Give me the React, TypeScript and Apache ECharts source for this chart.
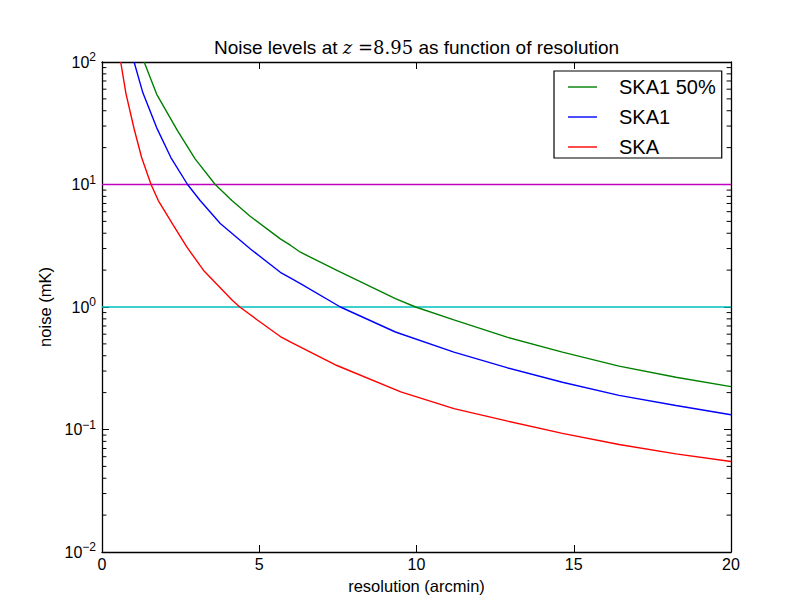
import React, { useEffect, useRef } from "react";
import * as echarts from "echarts";

// SKA1 50% (green)
const xSKA1half = [1.34, 1.74, 2.4, 2.96, 3.6, 4.13, 4.71, 5.67, 6.0, 6.31, 7.47, 9.33, 9.97, 11.19, 12.9, 14.64, 16.44, 18.25, 20];
const ySKA1half = [100, 54.5, 27.5, 16.2, 10, 7.4, 5.5, 3.6, 3.18, 2.8, 1.99, 1.17, 1.0, 0.786, 0.565, 0.428, 0.329, 0.267, 0.224];
// SKA1 (blue)
const xSKA1 = [1.02, 1.3, 1.74, 2.19, 2.72, 3.12, 3.76, 4.71, 5.67, 6.0, 6.31, 7.58, 9.33, 11.19, 12.9, 14.64, 16.44, 18.25, 20];
const ySKA1 = [100, 56, 29, 16.6, 10, 7.4, 4.8, 2.99, 1.92, 1.72, 1.55, 1.0, 0.625, 0.428, 0.318, 0.243, 0.19, 0.157, 0.132];
// SKA (red)
const xSKA = [0.595, 0.76, 1.02, 1.26, 1.56, 1.79, 2.27, 2.7, 3.23, 4.15, 4.38, 4.95, 5.67, 6.0, 7.47, 9.5, 11.19, 12.9, 14.64, 16.44, 18.25, 20];
const ySKA = [100, 55.5, 28.5, 16.6, 10, 7.4, 4.63, 3.08, 1.99, 1.13, 1.0, 0.78, 0.574, 0.516, 0.333, 0.203, 0.148, 0.117, 0.093, 0.0755, 0.0633, 0.0548];
// reference levels
const levelMagenta = 10;
const levelCyan = 1;
const xRange = [0, 20];
const seriesNames = ["SKA1 50%", "SKA1", "SKA"];
const seriesColors = ["#008000", "#0000ff", "#ff0000"];
const minorMultipliers = [2, 3, 4, 5, 6, 7, 8, 9];
const decades = [0.01, 0.1, 1, 10];
const minorTickLen = 0.14; // in x-axis units (about 4.4 px)

const FONT = "'Liberation Sans', Arial, sans-serif";
const SERIF = "'DejaVu Serif', 'Liberation Serif', serif";

export default function App() {
  const ref = useRef<HTMLDivElement>(null);
  useEffect(() => {
    document.body.style.margin = "0";
    if (!ref.current) return;
    const chart = echarts.init(ref.current, undefined, { renderer: "svg" });
    const pairs = (xs: number[], ys: number[]) => xs.map((x, i) => [x, ys[i]]);
    const minorValues: number[] = [];
    decades.forEach((d) => minorMultipliers.forEach((m) => minorValues.push(+(d * m).toPrecision(3))));
    const supText = (v: number) => {
      const e = Math.round(Math.log10(v));
      return "10{sup|" + (e < 0 ? "\u2212" + -e : String(e)) + "}";
    };
    const lineSeries = (name: string, data: number[][], color: string) => ({
      name,
      type: "line",
      data,
      symbol: "none",
      smooth: false,
      lineStyle: { color, width: 1.4 },
      itemStyle: { color },
      z: 3,
    });
    const tickSeries: any[] = [];
    minorValues.forEach((v, i) => {
      tickSeries.push({
        name: "minorL" + i,
        type: "line",
        data: [[xRange[0], v], [xRange[0] + minorTickLen, v]],
        symbol: "none",
        silent: true,
        lineStyle: { color: "#000", width: 1 },
        z: 6,
      });
      tickSeries.push({
        name: "minorR" + i,
        type: "line",
        data: [[xRange[1] - minorTickLen, v], [xRange[1], v]],
        symbol: "none",
        silent: true,
        lineStyle: { color: "#000", width: 1 },
        z: 6,
      });
    });
    const axisLine = { show: true, onZero: false, lineStyle: { color: "#000", width: 1.3 } };
    const axisTick = { show: true, inside: true, length: 7, lineStyle: { color: "#000", width: 1 } };
    const option: any = {
      animation: false,
      grid: { left: 102, right: 81, top: 62, bottom: 60, containLabel: false },
      xAxis: [
        {
          type: "value",
          min: xRange[0],
          max: xRange[1],
          interval: 5,
          name: "resolution (arcmin)",
          nameLocation: "middle",
          nameGap: 25,
          nameTextStyle: { fontFamily: FONT, fontSize: 16.5, color: "#000" },
          axisLine,
          axisTick,
          axisLabel: { fontFamily: FONT, fontSize: 16, color: "#000", margin: 4 },
          splitLine: { show: false },
        },
        {
          type: "value",
          position: "top",
          min: xRange[0],
          max: xRange[1],
          interval: 5,
          axisLine,
          axisTick,
          axisLabel: { show: false },
          splitLine: { show: false },
        },
      ],
      yAxis: [
        {
          type: "log",
          logBase: 10,
          min: 0.01,
          max: 100,
          position: "left",
          name: "noise (mK)",
          nameLocation: "middle",
          nameGap: 42,
          nameTextStyle: { fontFamily: FONT, fontSize: 16.5, color: "#000" },
          axisLine,
          axisTick,
          axisLabel: {
            fontFamily: FONT,
            fontSize: 16,
            color: "#000",
            margin: 6,
            formatter: supText,
            rich: {
              sup: { fontFamily: FONT, fontSize: 12, color: "#000", padding: [0, 0, 10, 0] },
            },
          },
          splitLine: { show: false },
        },
        {
          type: "log",
          logBase: 10,
          min: 0.01,
          max: 100,
          position: "right",
          axisLine,
          axisTick,
          axisLabel: { show: false },
          splitLine: { show: false },
        },
      ],
      legend: {
        orient: "vertical",
        left: 554,
        top: 71,
        padding: [6, 6, 1, 14],
        icon: "rect",
        itemWidth: 29,
        itemHeight: 1.4,
        itemGap: 10,
        borderColor: "#000",
        borderWidth: 1.2,
        backgroundColor: "#fff",
        data: seriesNames,
        textStyle: { fontFamily: FONT, fontSize: 20, color: "#000", lineHeight: 20, padding: [0, 0, 0, 17] },
      },
      graphic: [
        {
          type: "text",
          x: 416.5,
          y: 47,
          style: {
            text: "Noise levels at {it|z}{m| =8.95} as function of resolution",
            fontFamily: FONT,
            fontSize: 19,
            fill: "#000",
            align: "center",
            verticalAlign: "middle",
            rich: {
              it: { fontFamily: SERIF, fontStyle: "italic", fontSize: 18, fill: "#000" },
              m: { fontFamily: SERIF, fontSize: 18, fill: "#000" },
            },
          },
        },
      ],
      series: [
        lineSeries(seriesNames[0], pairs(xSKA1half, ySKA1half), seriesColors[0]),
        lineSeries(seriesNames[1], pairs(xSKA1, ySKA1), seriesColors[1]),
        lineSeries(seriesNames[2], pairs(xSKA, ySKA), seriesColors[2]),
        {
          name: "level10",
          type: "line",
          data: [[xRange[0], levelMagenta], [xRange[1], levelMagenta]],
          symbol: "none",
          lineStyle: { color: "#bf00bf", width: 1.4 },
          z: 2,
        },
        {
          name: "level1",
          type: "line",
          data: [[xRange[0], levelCyan], [xRange[1], levelCyan]],
          symbol: "none",
          lineStyle: { color: "#00bfbf", width: 1.4 },
          z: 2,
        },
        ...tickSeries,
      ],
    };
    chart.setOption(option);
    return () => chart.dispose();
  }, []);
  return <div ref={ref} style={{ width: 812, height: 612, background: "#fff" }} />;
}
